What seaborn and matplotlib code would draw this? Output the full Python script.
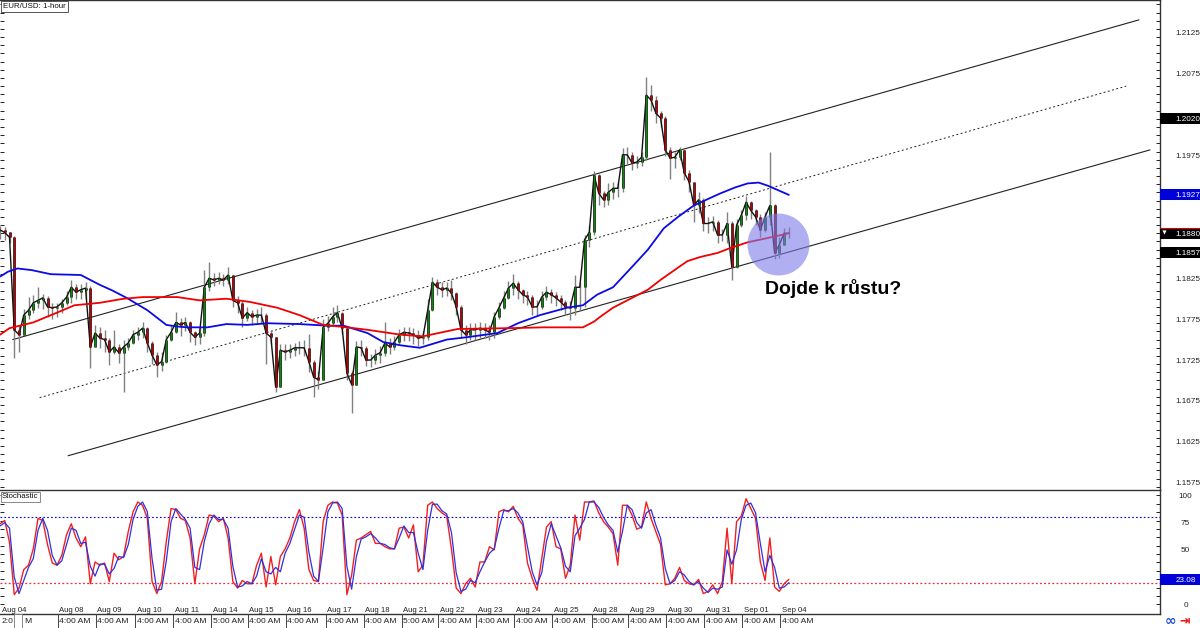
import numpy as np
import pandas as pd
import matplotlib
matplotlib.use("Agg")
import matplotlib.pyplot as plt
from matplotlib.patches import Rectangle
from matplotlib.transforms import blended_transform_factory
import seaborn as sns

# 3 hour bars
closes = [1.1884,1.1881,1.1875,1.1762,1.1756,1.1780,1.1786,1.1795,1.1798,1.1801,1.1790,1.1789,1.1790,1.1795,1.1802,1.1814,1.1808,1.1811,1.1813,1.1741,
          1.1758,1.1752,1.1750,1.1735,1.1741,1.1734,1.1741,1.1746,1.1756,1.1759,1.1764,1.1746,1.1731,1.1719,1.1723,1.1750,1.1759,1.1771,1.1768,1.1771,
          1.1759,1.1753,1.1758,1.1814,1.1825,1.1823,1.1825,1.1823,1.1829,1.1798,1.1795,1.1776,1.1783,1.1778,1.1780,1.1780,1.1758,1.1753,1.1692,1.1737,
          1.1735,1.1737,1.1740,1.1740,1.1740,1.1723,1.1704,1.1701,1.1765,1.1770,1.1778,1.1783,1.1764,1.1709,1.1695,1.1741,1.1740,1.1725,1.1725,1.1731,
          1.1734,1.1746,1.1741,1.1747,1.1756,1.1759,1.1758,1.1756,1.1752,1.1753,1.1786,1.1820,1.1814,1.1811,1.1813,1.1807,1.1790,1.1762,1.1756,1.1762,
          1.1762,1.1764,1.1762,1.1759,1.1778,1.1789,1.1801,1.1813,1.1819,1.1811,1.1805,1.1802,1.1790,1.1790,1.1802,1.1808,1.1805,1.1801,1.1796,1.1790,
          1.1789,1.1814,1.1814,1.1872,1.1881,1.1951,1.1929,1.1921,1.1930,1.1935,1.1935,1.1976,1.1976,1.1966,1.1967,1.1973,1.2049,1.2043,1.2027,1.2021,
          1.1982,1.1972,1.1973,1.1982,1.1954,1.1943,1.1914,1.1921,1.1892,1.1892,1.1894,1.1878,1.1878,1.1892,1.1839,1.1890,1.1902,1.1918,1.1908,1.1900,
          1.1884,1.1900,1.1914,1.1856,1.1866,1.1880,1.1880]
highs = [1.1889,1.1888,1.1882,1.1877,1.1768,1.1788,1.1802,1.1805,1.1814,1.1806,1.1803,1.1795,1.1795,1.1800,1.1810,1.1823,1.1818,1.1818,1.1820,1.1815,
         1.1768,1.1765,1.1762,1.1752,1.1762,1.1745,1.1750,1.1752,1.1762,1.1765,1.1771,1.1765,1.1748,1.1735,1.1735,1.1756,1.1768,1.1784,1.1776,1.1778,
         1.1773,1.1761,1.1765,1.1835,1.1845,1.1832,1.1833,1.1830,1.1839,1.1829,1.1803,1.1797,1.1790,1.1786,1.1787,1.1790,1.1782,1.1762,1.1753,1.1745,
         1.1745,1.1745,1.1746,1.1748,1.1750,1.1757,1.1725,1.1712,1.1775,1.1779,1.1790,1.1792,1.1784,1.1765,1.1712,1.1748,1.1750,1.1742,1.1732,1.1738,
         1.1742,1.1772,1.1752,1.1755,1.1763,1.1766,1.1766,1.1764,1.1762,1.1760,1.1800,1.1827,1.1824,1.1820,1.1820,1.1823,1.1808,1.1792,1.1768,1.1770,
         1.1770,1.1771,1.1770,1.1768,1.1784,1.1796,1.1809,1.1822,1.1830,1.1822,1.1812,1.1810,1.1804,1.1798,1.1809,1.1815,1.1812,1.1808,1.1804,1.1798,
         1.1797,1.1829,1.1820,1.1878,1.1890,1.1956,1.1953,1.1932,1.1941,1.1943,1.1942,1.1984,1.1985,1.1980,1.1974,1.1979,1.2071,1.2061,1.2048,1.2030,
         1.2023,1.1985,1.1980,1.1985,1.1983,1.1958,1.1929,1.1931,1.1923,1.1900,1.1901,1.1896,1.1885,1.1906,1.1895,1.1897,1.1909,1.1926,1.1920,1.1910,
         1.1903,1.1906,1.1979,1.1916,1.1876,1.1887,1.1888]
lows = [1.1873,1.1872,1.1868,1.1728,1.1735,1.1766,1.1775,1.1783,1.1789,1.1788,1.1778,1.1775,1.1778,1.1783,1.1792,1.1795,1.1800,1.1800,1.1800,1.1715,
        1.1745,1.1740,1.1735,1.1719,1.1732,1.1722,1.1686,1.1737,1.1745,1.1750,1.1752,1.1735,1.1720,1.1704,1.1712,1.1722,1.1748,1.1758,1.1755,1.1760,
        1.1747,1.1744,1.1745,1.1755,1.1810,1.1815,1.1818,1.1815,1.1818,1.1790,1.1783,1.1765,1.1773,1.1768,1.1770,1.1770,1.1720,1.1745,1.1686,1.1692,
        1.1725,1.1727,1.1730,1.1733,1.1730,1.1710,1.1680,1.1690,1.1701,1.1760,1.1768,1.1772,1.1757,1.1700,1.1660,1.1695,1.1730,1.1718,1.1716,1.1720,
        1.1722,1.1730,1.1733,1.1737,1.1745,1.1748,1.1748,1.1745,1.1742,1.1745,1.1750,1.1785,1.1805,1.1802,1.1803,1.1798,1.1780,1.1752,1.1745,1.1750,
        1.1750,1.1752,1.1752,1.1749,1.1752,1.1775,1.1787,1.1800,1.1805,1.1800,1.1795,1.1792,1.1780,1.1780,1.1788,1.1798,1.1795,1.1791,1.1786,1.1780,
        1.1774,1.1780,1.1786,1.1790,1.1863,1.1878,1.1915,1.1912,1.1915,1.1922,1.1925,1.1930,1.1965,1.1958,1.1960,1.1962,1.1970,1.2030,1.2015,1.2010,
        1.1975,1.1946,1.1960,1.1970,1.1945,1.1930,1.1894,1.1905,1.1883,1.1880,1.1883,1.1868,1.1870,1.1868,1.1823,1.1838,1.1888,1.1896,1.1898,1.1890,
        1.1875,1.1882,1.1890,1.1848,1.1850,1.1870,1.1874]

# moving averages
blue_ma_hours = [0,5,11,20,32,51,63,71,80,93,105,112,118,131,143,156,169,189,207,217,232,242,253,265,282,295,314,327,341,358,368,377,387,400,409,419,428,438,447,455,464,472,479,485,498]
blue_ma = [1.1827,1.1833,1.1837,1.1835,1.1830,1.1829,1.1817,1.1810,1.1801,1.1786,1.1768,1.1766,1.1765,1.1765,1.1769,1.1768,1.1770,1.1769,1.1767,1.1767,
           1.1758,1.1747,1.1743,1.1740,1.1750,1.1753,1.1758,1.1770,1.1780,1.1789,1.1792,1.1805,1.1814,1.1841,1.1860,1.1886,1.1900,1.1914,1.1922,1.1929,1.1936,1.1941,1.1942,1.1938,1.1927]
red_ma_hours = [0,6,21,36,47,63,78,90,112,126,143,158,175,189,204,219,232,253,267,289,322,343,368,371,375,379,387,393,400,409,417,428,434,442,453,461,472,484,498]
red_ma = [1.1756,1.1764,1.1771,1.1783,1.1792,1.1795,1.1800,1.1802,1.1802,1.1798,1.1800,1.1796,1.1789,1.1780,1.1768,1.1765,1.1762,1.1756,1.1754,1.1763,
          1.1764,1.1765,1.1765,1.1768,1.1772,1.1778,1.1789,1.1795,1.1802,1.1811,1.1823,1.1838,1.1846,1.1851,1.1856,1.1862,1.1869,1.1874,1.1880]

# channel lines
upper_hours, upper_prices = [8, 719], [1.1750, 1.2141]
mid_hours, mid_prices = [25, 711], [1.1679, 1.2060]
lower_hours, lower_prices = [43, 726], [1.1608, 1.1982]

# stochastic
stoch_k = [74,77,57,9,15,32,36,51,79,77,55,38,36,45,64,74,61,53,62,19,39,36,38,21,47,41,44,67,85,94,91,79,21,10,21,58,88,87,79,77,
           61,19,51,64,82,81,76,79,61,21,15,22,19,19,36,47,16,44,18,44,51,61,76,87,70,32,22,21,76,91,94,93,82,9,27,59,61,64,67,56,
           56,53,51,51,70,71,61,73,30,36,91,94,88,84,81,51,15,10,19,24,16,39,39,53,50,85,87,85,90,79,73,38,24,13,42,71,76,53,51,24,
           36,82,59,94,94,95,84,76,71,65,36,91,91,82,69,71,94,79,67,55,18,19,24,34,22,19,18,23,10,12,18,10,21,70,19,76,81,97,88,79,
           39,22,61,16,12,19,23]
stoch_d = [72,75,70,25,10,22,34,42,68,79,68,45,36,40,55,70,68,56,57,35,26,37,37,28,33,44,43,55,78,90,94,85,42,13,14,40,76,88,83,78,
           70,34,32,58,74,82,78,78,70,35,16,17,21,19,26,42,30,28,34,30,47,56,69,82,80,48,26,21,52,85,93,94,88,35,14,44,60,62,65,61,
           56,55,52,51,61,72,66,66,47,32,68,92,92,86,83,66,29,12,14,22,20,30,39,47,51,70,86,86,88,84,76,53,30,18,29,58,74,63,52,35,
           30,63,70,78,94,94,89,80,73,68,48,67,91,87,75,70,84,87,73,61,33,19,22,30,27,21,18,21,15,11,15,14,16,50,37,50,78,91,93,84,
           56,30,45,34,15,16,20]

date_labels = ["Aug 04","Aug 08","Aug 09","Aug 10","Aug 11","Aug 14","Aug 15","Aug 16","Aug 17","Aug 18","Aug 21",
               "Aug 22","Aug 23","Aug 24","Aug 25","Aug 28","Aug 29","Aug 30","Aug 31","Sep 01","Sep 04"]
time_labels = ["","4:00 AM","4:00 AM","4:00 AM","4:00 AM","5:00 AM","4:00 AM","4:00 AM","4:00 AM","4:00 AM","5:00 AM",
               "4:00 AM","4:00 AM","4:00 AM","4:00 AM","5:00 AM","4:00 AM","4:00 AM","4:00 AM","4:00 AM","4:00 AM"]
label_hours = [1,37,61,86,110,134,157,181,206,230,254,277,301,325,349,374,397,421,445,469,493]

# 1.1875, 1.1925 and 1.2025 sit behind the value boxes, 25 behind the 23.08 box
price_labels = [1.1575,1.1625,1.1675,1.1725,1.1775,1.1825,1.1975,1.2075,1.2125]
stoch_labels = [0,50,75,100]

sns.set_theme(style="white")
plt.rcParams['font.family'] = ['Liberation Sans', 'DejaVu Sans']
small = 5.9
dark = "#222222"

bars = pd.DataFrame({"close": closes, "high": highs, "low": lows})
bars["hour"] = np.arange(len(bars)) * 3
bars["open"] = bars["close"].shift(1).fillna(bars["close"])
bars["k"] = stoch_k
bars["d"] = stoch_d

fig = plt.figure(figsize=(12, 6.28), dpi=100)
W, H = 1200, 628
ax = fig.add_axes([0, (H-489.5)/H, 1159.5/W, 489.5/H])
ax2 = fig.add_axes([0, (H-613.5)/H, 1159.5/W, 123.5/H])
ax3 = fig.add_axes([0, 0, 1159.5/W, 14/H])
for a in (ax, ax2, ax3):
    a.set_xlim(0, 732)
    a.set_xticks([])
    a.set_xlabel("")
ax.set_ylim(1.15667, 1.21653)
ax2.set_ylim(-8.3, 105)
ax3.set_ylim(0, 1)
ax3.axis("off")

# candles
ax.vlines(bars["hour"], bars["low"], bars["high"], color="#808080", lw=1.0, zorder=2)
sns.lineplot(data=bars, x="hour", y="close", ax=ax, color="#111111", lw=1.0, estimator=None, sort=False, zorder=3)
body_lo = bars[["open", "close"]].min(axis=1)
body_hi = bars[["open", "close"]].max(axis=1)
up = bars["close"] >= bars["open"]
ax.vlines(bars["hour"], body_lo, body_hi, color="#111111", lw=1.9, zorder=3)
ax.vlines(bars["hour"][up], body_lo[up], body_hi[up], color="#0a8a0a", lw=1.0, zorder=4)
ax.vlines(bars["hour"][~up], body_lo[~up], body_hi[~up], color="#c00000", lw=1.0, zorder=4)

# channel
sns.lineplot(x=upper_hours, y=upper_prices, ax=ax, color=dark, lw=0.8, zorder=1)
sns.lineplot(x=lower_hours, y=lower_prices, ax=ax, color=dark, lw=0.8, zorder=1)
sns.lineplot(x=mid_hours, y=mid_prices, ax=ax, color=dark, lw=0.7, linestyle=(0, (2, 2.5)), zorder=1)

# averages
sns.lineplot(x=blue_ma_hours, y=blue_ma, ax=ax, color="#0a0ae6", lw=1.3, zorder=5)
sns.lineplot(x=red_ma_hours, y=red_ma, ax=ax, color="#f00000", lw=1.3, zorder=5)
ax.scatter([491], [1.1867], s=1992, color="#7b7be8", alpha=0.6, linewidths=0, zorder=6)
ax.text(483, 1.1813, "Dojde k růstu?", fontsize=14, fontweight="bold", color="black", va="center", zorder=7)

# stochastic panel
ax2.axhline(80, color="#0000ee", lw=0.8, linestyle=(0, (1.5, 2)))
ax2.axhline(20, color="#e83030", lw=0.9, linestyle=(0, (1.5, 1.8)))
sns.lineplot(data=bars, x="hour", y="k", ax=ax2, color="#f02020", lw=1.0, estimator=None, sort=False, zorder=3)
sns.lineplot(data=bars, x="hour", y="d", ax=ax2, color="#3030e0", lw=0.9, estimator=None, sort=False, zorder=4)

for a in (ax, ax2):
    a.set_xlabel("")
    a.set_ylabel("")
    a.set_yticks([])
    a.tick_params(axis="y", which="both", direction="in", left=True, right=True, labelleft=False, labelright=False,
                  color=dark, length=3, width=0.7)
    a.spines["left"].set_visible(False)
    for s in ("top", "right", "bottom"):
        a.spines[s].set_color("#333333")
        a.spines[s].set_linewidth(1.0)
ax.spines["bottom"].set_visible(False)

ax.set_yticks(np.arange(1.157, 1.2165, 0.001), minor=False)
ax.set_yticklabels([])
ax2.set_yticks(np.arange(0, 105, 7.7))
ax2.set_yticklabels([])

tr1 = blended_transform_factory(ax.transAxes, ax.transData)
tr2 = blended_transform_factory(ax2.transAxes, ax2.transData)
for p in price_labels:
    ax.text(1.0138, p, f"{p:.4f}", transform=tr1, fontsize=small, color="#222222", va="center_baseline", clip_on=False)
for v in stoch_labels:
    ax2.text(1.0224, v, str(v), transform=tr2, fontsize=small, color="#222222", va="center_baseline", ha="center", clip_on=False)

# value boxes on the right
box_w = 41 / 1159.5
for price, col, label in [(1.2020, "black", "1.2020"), (1.1927, "#0000d8", "1.1927"), (1.1880, "black", "1.1880"), (1.1857, "black", "1.1857")]:
    ax.add_patch(Rectangle((1, price - 0.00066), box_w, 0.00132, transform=tr1, color=col, clip_on=False, zorder=8, lw=0))
    ax.text(1.0138, price, label, transform=tr1, fontsize=small, color="white", va="center_baseline", clip_on=False, zorder=9)
ax.plot([1, 1 + box_w], [1.1886, 1.1886], transform=tr1, color="#e00000", lw=0.8, clip_on=False, zorder=9)
ax.plot([1.0035], [1.1882], transform=tr1, marker="v", ms=3, color="white", mew=0, clip_on=False, zorder=9)
ax2.add_patch(Rectangle((1, 23.08 - 4.8), box_w, 9.6, transform=tr2, color="#0000d8", clip_on=False, zorder=8, lw=0))
ax2.text(1.0138, 23.08, "23.08", transform=tr2, fontsize=small, color="white", va="center_baseline", clip_on=False, zorder=9)

# label boxes
ax.text(0.0027, 0.9875, "EUR/USD: 1-hour", transform=ax.transAxes, fontsize=small - 0.2, color="#111111", va="center", zorder=9,
        bbox=dict(boxstyle="square,pad=0.25", fc="white", ec="#555555", lw=0.7))
ax2.text(0.0018, 0.945, "Stochastic", transform=ax2.transAxes, fontsize=small - 0.2, color="#111111", va="center", zorder=9,
         bbox=dict(boxstyle="square,pad=0.2", fc="white", ec="#777777", lw=0.6))

# dates and session times
for hour, date, time in zip(label_hours, date_labels, time_labels):
    ax2.text(hour + 0.5, -5.6, date, fontsize=small - 0.3, color="#222222", va="center", zorder=9)
    if time:
        ax3.vlines(hour - 0.5, 0, 1, color="#444444", lw=0.7)
        ax3.text(hour + 0.5, 0.45, time, fontsize=small + 0.2, color="#222222", va="center")
ax3.text(1, 0.45, "2:0", fontsize=small + 0.2, color="#222222", va="center")
ax3.add_patch(Rectangle((9, 0.02), 5, 0.95, fc="white", ec="#777777", lw=0.6))
ax3.text(15, 0.45, "M", fontsize=small + 0.2, color="#222222", va="center")

fig.text(1170 / W, 1 - 621 / H, "∞", fontsize=10, fontweight="bold", color="#1f4fd0", ha="center", va="center", family="DejaVu Sans")
fig.text(1185 / W, 1 - 621 / H, "⇥", fontsize=9, fontweight="bold", color="#f01010", ha="center", va="center", family="DejaVu Sans")

fig.savefig("out.png", dpi=100)
